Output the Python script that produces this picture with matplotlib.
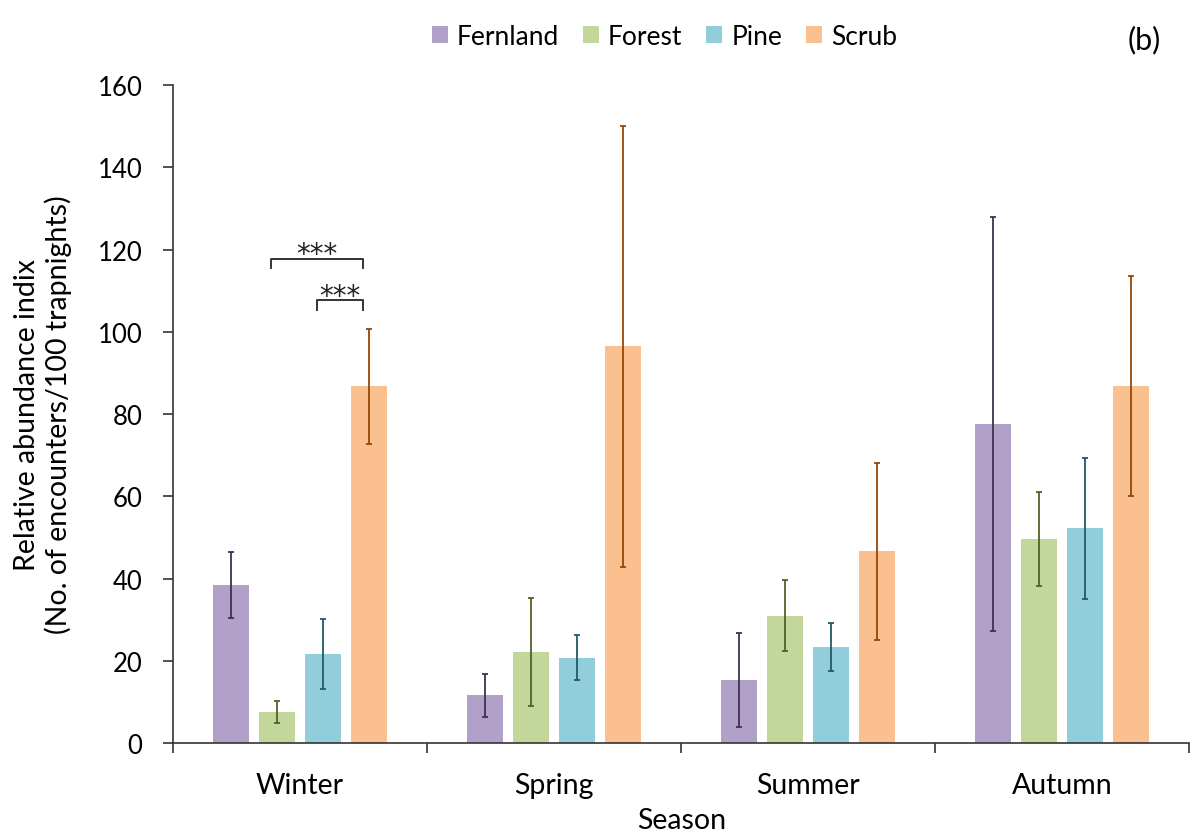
import numpy as np
import matplotlib.pyplot as plt

# data
seasons = ['Winter', 'Spring', 'Summer', 'Autumn']
habitats = ['Fernland', 'Forest', 'Pine', 'Scrub']
fernland = [38.5, 11.6, 15.3, 77.6]
forest = [7.5, 22.2, 31.0, 49.6]
pine = [21.6, 20.8, 23.4, 52.2]
scrub = [86.8, 96.5, 46.6, 86.8]
fernland_err = [8.0, 5.3, 11.5, 50.3]
forest_err = [2.7, 13.2, 8.7, 11.4]
pine_err = [8.5, 5.5, 5.9, 17.1]
scrub_err = [14.0, 53.6, 21.5, 26.8]

values = [fernland, forest, pine, scrub]
errors = [fernland_err, forest_err, pine_err, scrub_err]
bar_colors = ['#B1A0C7', '#C4D79B', '#92CDDC', '#FAC090']
err_colors = ['#403151', '#4F6228', '#215967', '#974706']

plt.rcParams['font.family'] = ['Lato', 'DejaVu Sans']

fig = plt.figure(figsize=(11.93, 8.37), dpi=100)
ax = fig.add_axes([0.145, 0.111, 0.852, 0.786])

x = np.arange(len(seasons))
step = 0.181
width = 0.142
handles = []
for i, name in enumerate(habitats):
    pos = x + (i - 1.5) * step
    b = ax.bar(pos, values[i], width=width, color=bar_colors[i], label=name, zorder=2)
    ax.errorbar(pos, values[i], yerr=errors[i], fmt='none', ecolor=err_colors[i],
                elinewidth=1.3, capsize=2.5, capthick=1.3, zorder=3)
    handles.append(b)

# significance brackets (winter)
shift = -0.025
x_forest = 0 + (1 - 1.5) * step + shift
x_pine = 0 + (2 - 1.5) * step + shift
x_scrub = 0 + (3 - 1.5) * step + shift
ax.plot([x_forest, x_forest, x_scrub, x_scrub], [115.6, 117.8, 117.8, 115.6], color='#333333', lw=1.4)
ax.text((x_forest + x_scrub) / 2, 116.9, '***', ha='center', va='baseline', fontsize=20,
        family='DejaVu Sans', color='#222222')
ax.plot([x_pine, x_pine, x_scrub, x_scrub], [105.3, 107.7, 107.7, 105.3], color='#333333', lw=1.4)
ax.text((x_pine + x_scrub) / 2, 106.8, '***', ha='center', va='baseline', fontsize=20,
        family='DejaVu Sans', color='#222222')

ax.set_xlim(-0.5, 3.5)
ax.set_ylim(0, 160)
ax.set_yticks(np.arange(0, 161, 20))
ax.set_yticklabels([str(v) for v in range(0, 161, 20)], fontsize=18.5)
ax.set_xticks(x)
ax.set_xticklabels(seasons, fontsize=20.5)
ax.set_xticks(np.arange(-0.5, 3.6, 1), minor=True)
ax.tick_params(axis='x', which='major', length=0, pad=21)
ax.tick_params(axis='x', which='minor', length=7, width=1.2, direction='out', color='#333333')
ax.tick_params(axis='y', length=7, width=1.2, direction='out', color='#333333', pad=15)

for s in ['top', 'right']:
    ax.spines[s].set_visible(False)
for s in ['left', 'bottom']:
    ax.spines[s].set_color('#333333')
    ax.spines[s].set_linewidth(1.2)

ax.set_xlabel('Season', fontsize=20.5, labelpad=6)
ax.set_ylabel('Relative abundance indix\n(No. of encounters/100 trapnights)', fontsize=20.5)
ax.yaxis.set_label_coords(-0.099, 0.5)

fig.legend(handles, habitats, loc='center', bbox_to_anchor=(0.557, 0.955), ncol=4, frameon=False,
           fontsize=19, handlelength=0.6, handleheight=0.6, handletextpad=0.35, columnspacing=0.9)
fig.text(0.959, 0.952, '(b)', fontsize=22, ha='center', va='center')

plt.savefig('out.png', dpi=100)
